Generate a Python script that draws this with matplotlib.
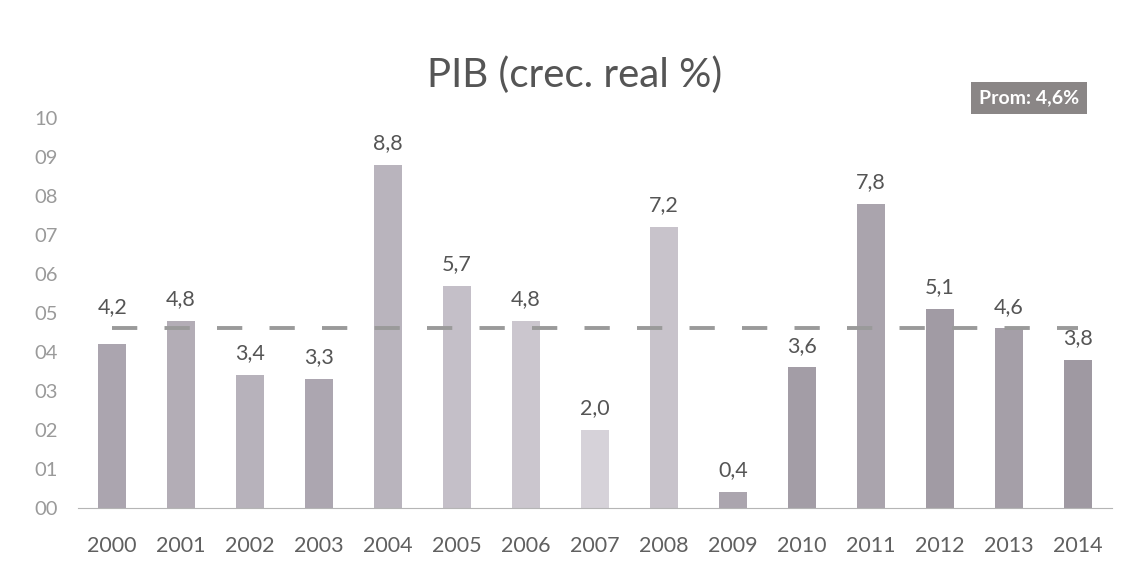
import matplotlib.pyplot as plt
import numpy as np

plt.rcParams['font.family'] = ['Lato', 'DejaVu Sans']

# Data
years = ['2000', '2001', '2002', '2003', '2004', '2005', '2006', '2007',
         '2008', '2009', '2010', '2011', '2012', '2013', '2014']
growth = [4.2, 4.8, 3.4, 3.3, 8.8, 5.7, 4.8, 2.0, 7.2, 0.4, 3.6, 7.8, 5.1, 4.6, 3.8]
prom = 4.6

# shades of the (scanned) bars
bar_colors = ['#aba5af', '#b3adb6', '#b7b2bb', '#aca6b0', '#b9b4bd', '#c4bfc8',
              '#cbc6ce', '#d6d2d9', '#c8c3cb', '#aba5ae', '#a39da6', '#aaa4ad',
              '#a19ba4', '#a59fa8', '#9f99a2']

x = np.arange(len(years))

fig = plt.figure(figsize=(11.42, 5.81), dpi=100)
ax = fig.add_axes([0.068, 0.126, 0.906, 0.671])

ax.bar(x, growth, width=0.4, color=bar_colors, zorder=2)
ax.plot(x, np.full(len(x), prom), linestyle=(0, (6.5, 7)), color='#9a9a9a',
        linewidth=2.8, zorder=3)

for xi, v in zip(x, growth):
    # labels of bars just under the average go above the dashed line
    y = prom if prom - 0.8 < v < prom else v
    ax.text(xi, y + 0.3, f'{v:.1f}'.replace('.', ','), ha='center', va='bottom',
            fontsize=15.5, color='#555555')

ax.set_xlim(-0.5, len(years) - 0.5)
ax.set_ylim(0, 10)
ax.set_yticks(range(0, 11))
ax.set_yticklabels([f'{i:02d}' for i in range(0, 11)])
ax.set_xticks(x)
ax.set_xticklabels(years)
ax.tick_params(axis='y', length=0, pad=14, labelsize=14.5, labelcolor='#9a9a9a')
ax.tick_params(axis='x', length=0, pad=20, labelsize=15.5, labelcolor='#606060')

for s in ['top', 'right', 'left']:
    ax.spines[s].set_visible(False)
ax.spines['bottom'].set_color('#b5b5b5')

fig.text(0.503, 0.87, 'PIB (crec. real %)', ha='center', va='center',
         fontsize=29, color='#555555')
fig.text(0.901, 0.831, 'Prom: 4,6%', ha='center', va='center', fontsize=14,
         fontweight='bold', color='white',
         bbox=dict(boxstyle='square,pad=0.4', facecolor='#8a8686', edgecolor='none'))

fig.savefig('out.png', dpi=100)
